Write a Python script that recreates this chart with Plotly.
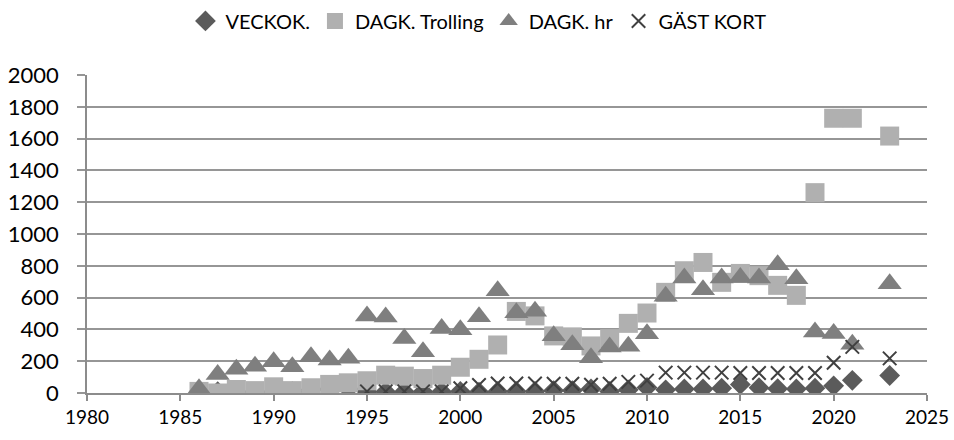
import plotly.graph_objects as go

years = list(range(1986, 2022)) + [2023]

veckok = [5, 8, 8, 5, 8, 8, 20, 25, 25, 8, 8, 8, 8, 8,
          10, 5, 10, 10, 10, 15, 15, 25, 10, 20, 35, 20, 25, 25, 30,
          54, 33, 27, 25, 30, 45, 80, 110]

trolling = [10, 0, 22, 15, 39, 15, 33, 54, 64, 77, 112, 106, 91, 112,
            162, 212, 302, 513, 485, 359, 353, 296, 342, 438, 503, 633, 769, 821, 696,
            752, 738, 677, 614, 1260, 1728, 1728, 1616]

hr = [26, 117, 150, 169, 197, 165, 228, 207, 218, 485, 478, 343, 259, 406,
      398, 479, 643, 505, 514, 360, 304, 221, 290, 294, 373, 608, 723, 650, 723,
      727, 724, 806, 719, 384, 375, 306, 687]

gast = [None] * 9 + [10, 10, 10, 10, 10,
        30, 50, 60, 60, 60, 58, 58, 52, 58, 70, 78, 128, 128, 128, 128,
        126, 126, 126, 126, 126, 190, 290, 218]

names = ["VECKOK.", "DAGK. Trolling", "DAGK. hr", "GÄST KORT"]

fig = go.Figure()
fig.add_trace(go.Scatter(x=years, y=veckok, mode="markers", name=names[0],
                         marker=dict(symbol="diamond", size=16, color="#5b5b5b")))
fig.add_trace(go.Scatter(x=years, y=trolling, mode="markers", name=names[1],
                         marker=dict(symbol="square", size=19, color="#b0b0b0")))
fig.add_trace(go.Scatter(x=years, y=hr, mode="markers", name=names[2],
                         marker=dict(symbol="triangle-up", size=21, color="#7f7f7f")))
fig.add_trace(go.Scatter(x=years, y=gast, mode="markers", name=names[3],
                         marker=dict(symbol="x-thin-open", size=13.5, color="#404040",
                                     line=dict(width=2, color="#404040"))))

fig.update_layout(
    width=954, height=440,
    margin=dict(l=87, r=27, t=75, b=46.5, autoexpand=False),
    paper_bgcolor="white", plot_bgcolor="white",
    font=dict(family="Lato, Open Sans, sans-serif", color="#000000"),
    showlegend=True,
    legend=dict(orientation="h", x=0.466, xanchor="center", y=1.17, yanchor="middle",
                font=dict(size=20, color="#000000"), itemsizing="trace"),
)
fig.update_xaxes(range=[1980, 2025], dtick=5, tick0=1980, showgrid=False,
                 showline=True, linecolor="#8c8c8c", linewidth=1.5,
                 ticks="outside", ticklen=6, tickcolor="#8c8c8c", tickwidth=1.5,
                 tickfont=dict(size=19), zeroline=False)
fig.update_yaxes(range=[0, 2000], dtick=200, showgrid=True, gridcolor="#969696",
                 gridwidth=1.5, showline=True, linecolor="#8c8c8c", linewidth=1.5,
                 ticks="outside", ticklen=8, tickcolor="#969696", tickwidth=1.5,
                 tickfont=dict(size=22), ticklabelstandoff=14, zeroline=False)

fig.write_html("out.html", config={"displayModeBar": False},
               post_script="document.body.style.margin='0px';")
